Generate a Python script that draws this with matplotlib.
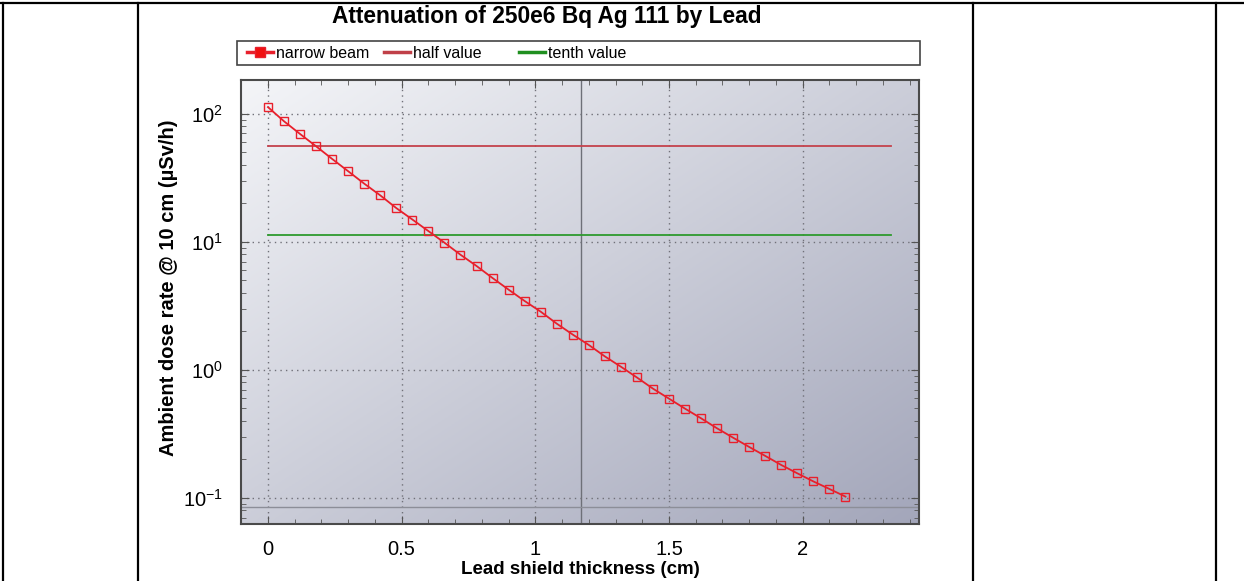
import numpy as np
import matplotlib
matplotlib.use("Agg")
import matplotlib.pyplot as plt
from matplotlib.lines import Line2D
from matplotlib.patches import Rectangle
from matplotlib.ticker import LogLocator, MultipleLocator

plt.rcParams['font.family'] = ['Liberation Sans', 'DejaVu Sans']
plt.rcParams['axes.unicode_minus'] = False

# lead thickness (cm) and dose rate (uSv/h)
thickness = [0.00, 0.06, 0.12, 0.18, 0.24, 0.30, 0.36, 0.42, 0.48, 0.54,
             0.60, 0.66, 0.72, 0.78, 0.84, 0.90, 0.96, 1.02, 1.08, 1.14,
             1.20, 1.26, 1.32, 1.38, 1.44, 1.50, 1.56, 1.62, 1.68, 1.74,
             1.80, 1.86, 1.92, 1.98, 2.04, 2.10, 2.16]
dose_rate = [112.5, 87.2, 69.4, 55.6, 44.3, 35.5, 28.4, 23.0, 18.3, 14.9,
             12.1, 9.82, 7.91, 6.46, 5.20, 4.22, 3.44, 2.84, 2.29, 1.88,
             1.56, 1.27, 1.055, 0.869, 0.711, 0.594, 0.496, 0.417, 0.348, 0.294,
             0.249, 0.212, 0.180, 0.155, 0.134, 0.117, 0.102]
ref_x = [0.0, 2.33]
half_value = [56.2, 56.2]
tenth_value = [11.25, 11.25]
cursor_x = 1.17
cursor_y = 0.085

W, H = 1244, 581
fig = plt.figure(figsize=(W / 100, H / 100), dpi=100)

def fx(px):
    return px / W

def fy(py):
    return 1 - py / H

# table borders of the page
for x in [2.5, 138, 972.5, 1216]:
    fig.add_artist(Line2D([fx(x), fx(x)], [0, fy(3)], color='black', lw=1.6))
fig.add_artist(Line2D([0, 1], [fy(3), fy(3)], color='black', lw=1.6))

ax = fig.add_axes([fx(240.7), fy(524), fx(919) - fx(240.7), fy(80) - fy(524)])

# gray gradient background
gx, gy = np.meshgrid(np.linspace(0, 1, 200), np.linspace(1, 0, 200))
t = (gx + (1 - gy)) / 2
c0 = np.array([244, 245, 248]) / 255
c1 = np.array([163, 166, 186]) / 255
img = c0[None, None, :] * (1 - t[..., None]) + c1[None, None, :] * t[..., None]
ax.imshow(img, extent=[0, 1, 0, 1], transform=ax.transAxes, aspect='auto', zorder=0)

ax.set_yscale('log')
ax.set_xlim(-0.102, 2.435)
ax.set_ylim(10 ** -1.2055, 10 ** 2.263)

ax.plot(ref_x, half_value, color='#c4424c', lw=1.3, zorder=3)
ax.plot(ref_x, tenth_value, color='#2e9a2e', lw=1.3, zorder=3)
ax.plot(thickness, dose_rate, color='#e8202c', lw=1.3, marker='s', ms=5.5,
        mfc='none', mec='#e8202c', mew=1.0, zorder=4)

ax.axvline(cursor_x, color='#6e7078', lw=1.0, zorder=2)
ax.axhline(cursor_y, color='#8c8e98', lw=1.0, zorder=2)

ax.xaxis.set_major_locator(MultipleLocator(0.5))
ax.xaxis.set_minor_locator(MultipleLocator(0.1))
ax.yaxis.set_major_locator(LogLocator(base=10, numticks=10))
ax.yaxis.set_minor_locator(LogLocator(base=10, subs=np.arange(2, 10), numticks=10))
ax.set_xticks([0, 0.5, 1, 1.5, 2])
ax.set_xticklabels(['0', '0.5', '1', '1.5', '2'])

ax.grid(True, which='major', color='#707078', ls=(0, (1, 3)), lw=1.0, zorder=1)
ax.tick_params(which='both', direction='in', top=True, right=True, colors='#555555',
               labelcolor='black', labelsize=14.5)
ax.tick_params(which='major', length=6)
ax.tick_params(which='minor', length=3.5)
ax.tick_params(axis='x', pad=11.5)
ax.tick_params(axis='y', pad=13)
for s in ax.spines.values():
    s.set_color('#4a4a4a')
    s.set_linewidth(1.5)

fig.text(fx(547), fy(16), 'Attenuation of 250e6 Bq Ag 111 by Lead', ha='center', va='center',
         fontsize=16.4, fontweight='bold')
fig.text(fx(580), fy(569.5), 'Lead shield thickness (cm)', ha='center', va='center',
         fontsize=13.5, fontweight='bold')
fig.text(fx(168), fy(288), 'Ambient dose rate @ 10 cm (µSv/h)', ha='center', va='center',
         rotation=90, fontsize=14.5, fontweight='bold')

# legend box across the top
fig.add_artist(Rectangle((fx(237), fy(65)), fx(920) - fx(237), fy(41) - fy(65),
                         transform=fig.transFigure, fill=False, ec='#444444', lw=1.2))
items = [
    (Line2D([], [], color='#e8202c', lw=2.5, marker='s', ms=7, mfc='#f01010', mec='#e8202c'),
     'narrow beam', 247),
    (Line2D([], [], color='#c04048', lw=2.5), 'half value', 384),
    (Line2D([], [], color='#1f8f1f', lw=2.5), 'tenth value', 519),
]
for h, lab, px in items:
    fig.legend([h], [lab], loc='center left', bbox_to_anchor=(fx(px), fy(53)),
               frameon=False, fontsize=11.5, handlelength=1.6, handletextpad=0.2,
               borderpad=0, borderaxespad=0)

fig.savefig('out.png', dpi=100)
